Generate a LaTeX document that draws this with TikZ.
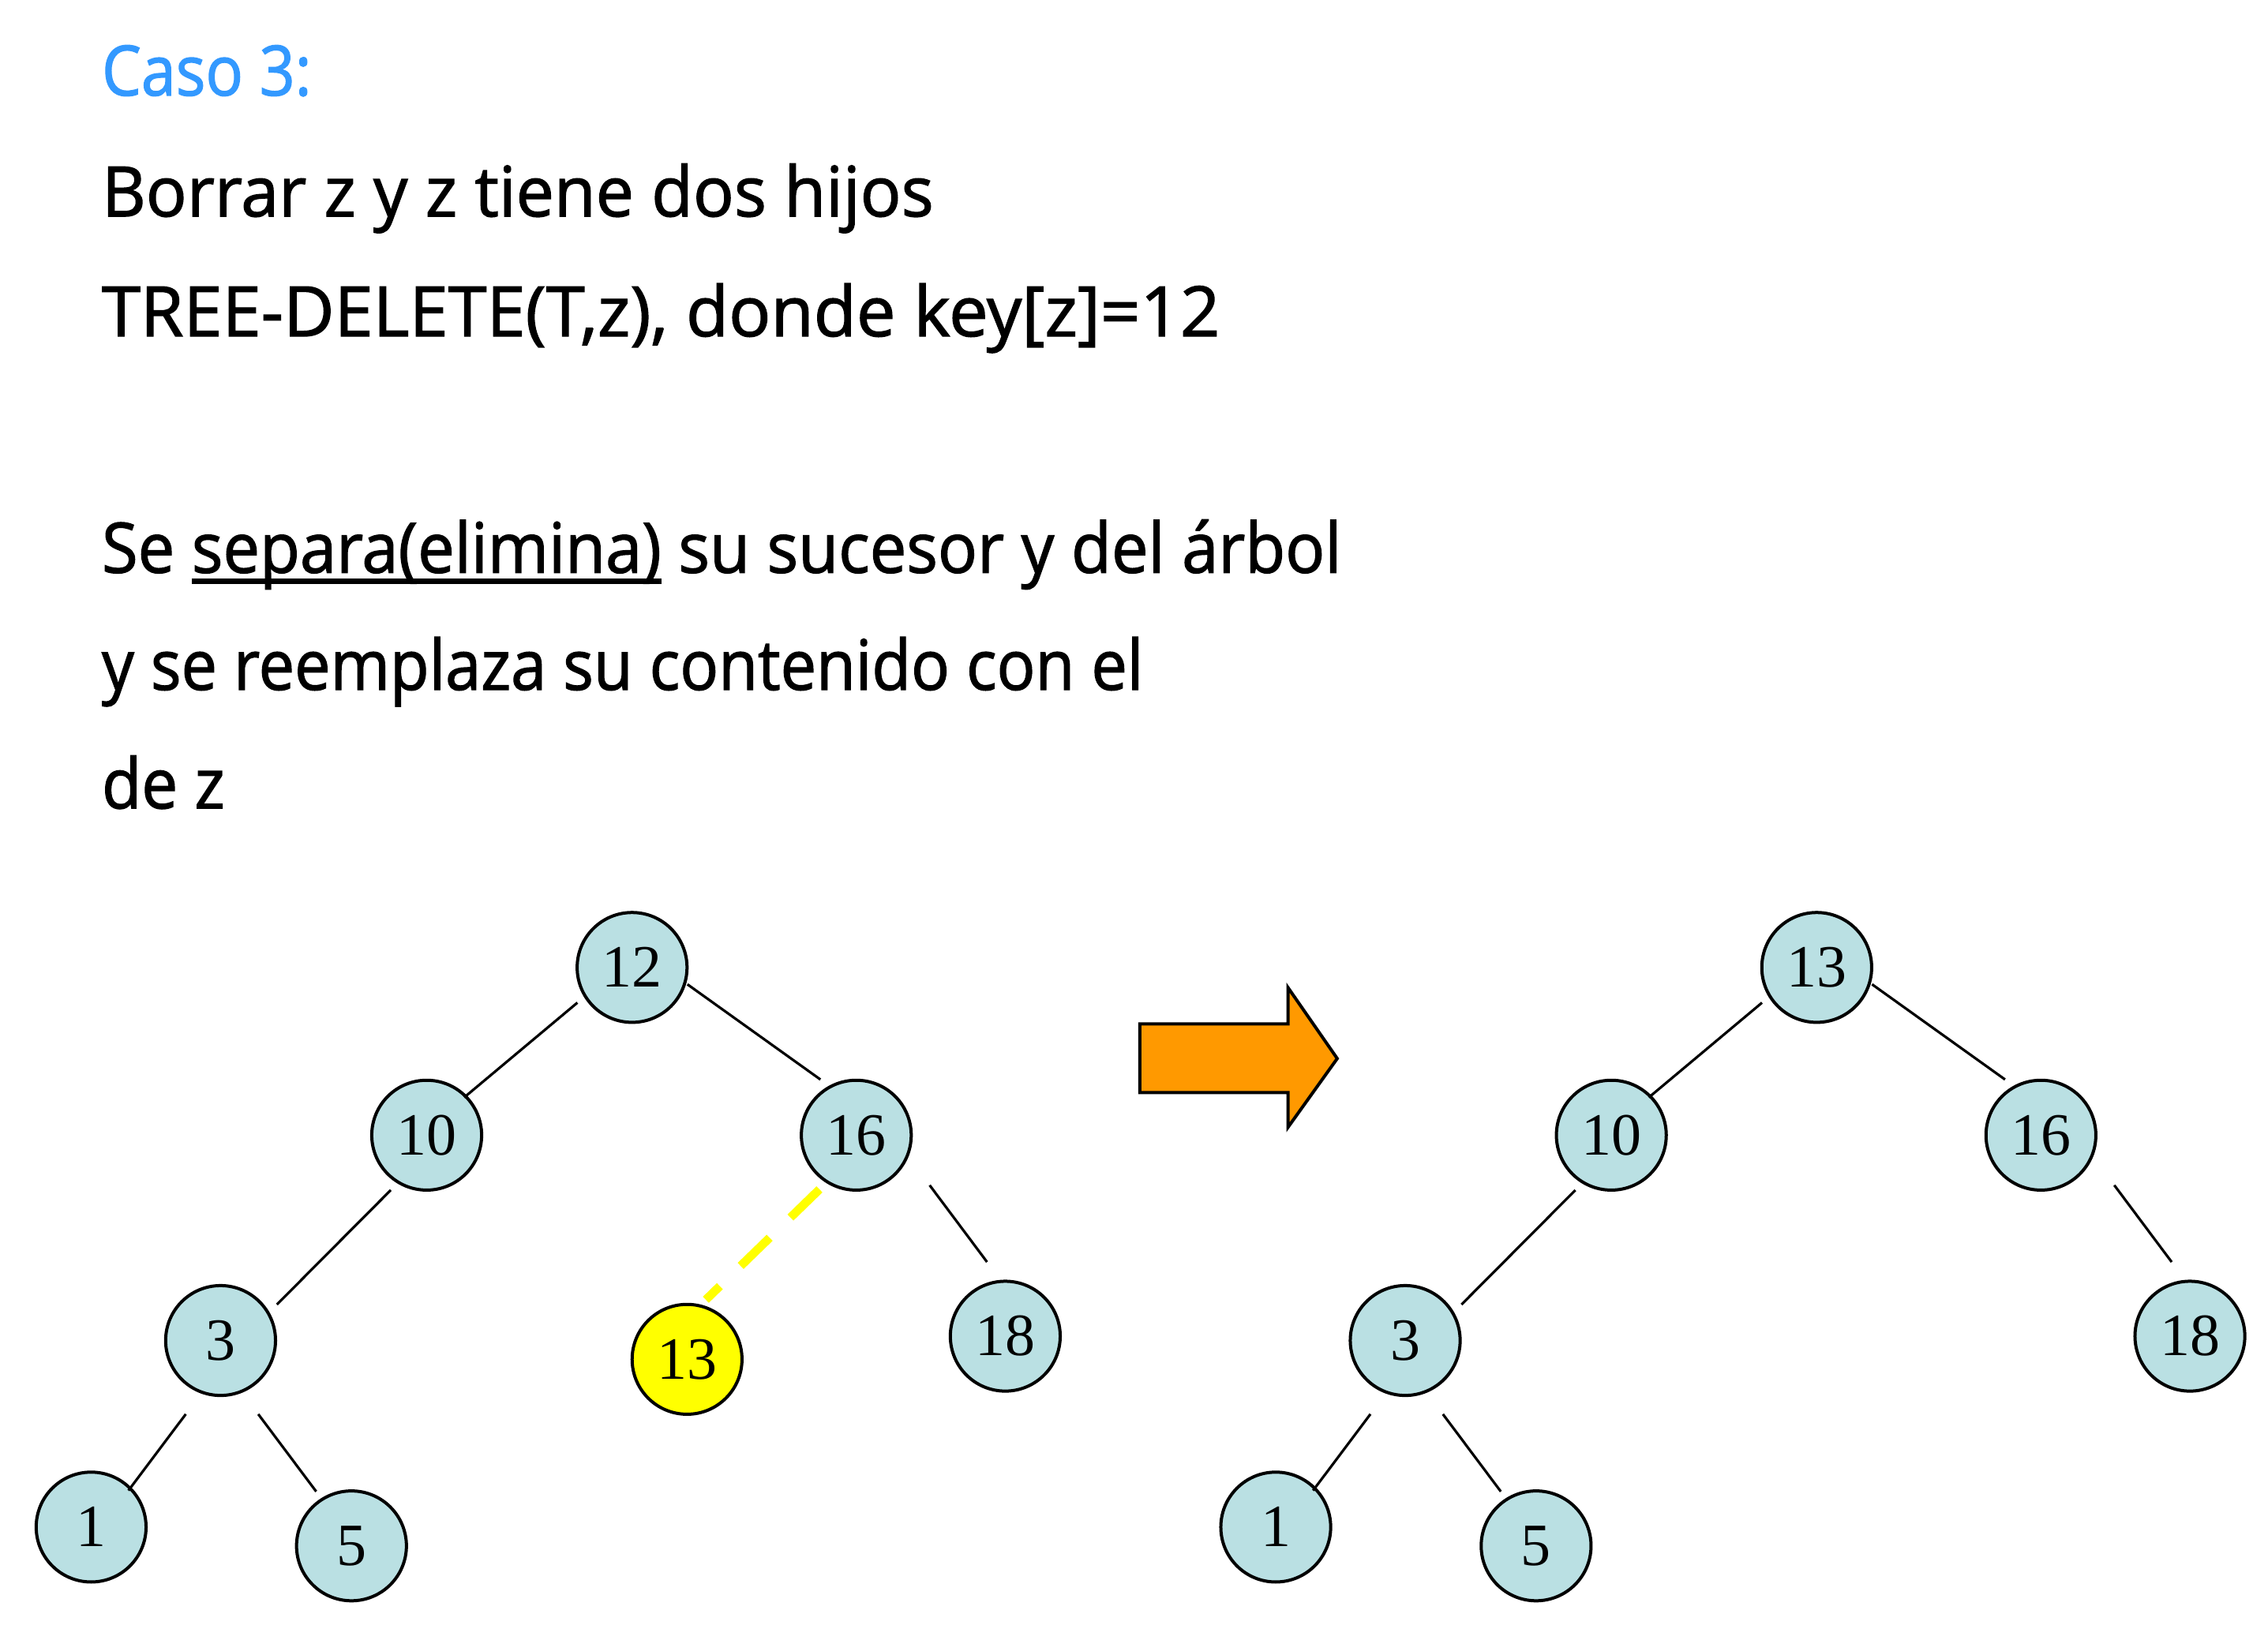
\documentclass[tikz,border=0pt]{standalone}
\usepackage{fontspec}
\setmainfont{Open Sans}
\newfontfamily\bodyfont{Open Sans}[FakeBold=1.5]
\newfontfamily\numfont{Liberation Serif}
\usetikzlibrary{calc}
\definecolor{nodefill}{RGB}{186,224,227}
\definecolor{casoblue}{RGB}{51,153,255}
\definecolor{arroworange}{RGB}{255,153,0}
\definecolor{succyellow}{RGB}{255,255,0}
\newlength\unitpx
\setlength\unitpx{0.45807pt}
\newsavebox\ulbox
\newcommand\myul[1]{\sbox\ulbox{#1}\rlap{\rule[-3.5pt]{\wd\ulbox}{1.6pt}}\usebox\ulbox}
\newcommand\fitline[2]{\resizebox{#1\unitpx}{\height}{#2}}
\begin{document}
\begin{tikzpicture}[x=\unitpx, y=-\unitpx,
  treenode/.style={circle, draw=black, line width=1pt, fill=nodefill,
    minimum size=34.8pt, inner sep=0pt, font=\numfont\fontsize{19}{19}\selectfont},
  succnode/.style={treenode, fill=succyellow},
  treeedge/.style={draw=black, line width=0.8pt},
  cutedge/.style={draw=succyellow, line width=2.7pt, dash pattern=on 12.8pt off 9.2pt},
  bigarrow/.style={draw=black, line width=1pt, fill=arroworange, line join=miter},
  bodytext/.style={anchor=base west, inner sep=0pt, font=\bodyfont\fontsize{22}{26}\selectfont}]
\fill[white] (0,0) rectangle (1568,1134);
\useasboundingbox (0,0) rectangle (1568,1134);

% text
\node[bodytext, text=casoblue] (t0) at (70,66) {\fitline{145}{Caso 3:}};
\node[bodytext] (t1) at (70,149.6) {\fitline{575}{Borrar z y z tiene dos hijos}};
\node[bodytext] (t2) at (70,232.5) {\fitline{773}{TREE-DELETE(T,z), donde key[z]=12}};
\node[bodytext] (t3) at (70,396) {\fitline{857}{Se \myul{separa(elimina)} su sucesor y del árbol}};
\node[bodytext] (t4) at (70,477) {\fitline{720}{y se reemplaza su contenido con el}};
\node[bodytext] (t5) at (70,559) {\fitline{85}{de z}};

% left tree
\node[treenode] (a12) at (437,669) {12};
\node[treenode] (a10) at (295,785) {10};
\node[treenode] (a16) at (592,785) {16};
\node[treenode] (a3) at (152.5,927) {3};
\node[succnode] (a13) at (475,940) {13};
\node[treenode] (a18) at (695,924) {18};
\node[treenode] (a1) at (63,1056) {1};
\node[treenode] (a5) at (243,1069) {5};

\draw[treeedge] ($(a12)+(147.2:45)$) -- ($(a10)+(314.8:36.8)$);
\draw[treeedge] ($(a12)+(17:40)$) -- ($(a16)+(237.2:45.8)$);
\draw[treeedge] ($(a10)+(123.2:45.4)$) -- ($(a3)+(327.4:46.2)$);
\draw[treeedge] ($(a3)+(115.3:56.3)$) -- ($(a1)+(315.6:36.1)$);
\draw[treeedge] ($(a3)+(62.9:57.2)$) -- ($(a5)+(237:44.8)$);
\draw[treeedge] ($(a16)+(34.3:61.4)$) -- ($(a18)+(256.2:52.8)$);
\draw[cutedge] ($(a16)+(124.2:45.3)$) -- ($(a13)+(287.5:43.2)$);

% arrow
\draw[bigarrow] (788,708) -- (890.5,708) -- (890.5,683) -- (924.5,732)
  -- (890.5,779.5) -- (890.5,755.5) -- (788,755.5) -- cycle;

% right tree
\node[treenode] (b13) at (1256,669) {13};
\node[treenode] (b10) at (1114,785) {10};
\node[treenode] (b16) at (1411,785) {16};
\node[treenode] (b3) at (971.5,927) {3};
\node[treenode] (b18) at (1514,924) {18};
\node[treenode] (b1) at (882,1056) {1};
\node[treenode] (b5) at (1062,1069) {5};

\draw[treeedge] ($(b13)+(147.2:45)$) -- ($(b10)+(314.8:36.8)$);
\draw[treeedge] ($(b13)+(17:40)$) -- ($(b16)+(237.2:45.8)$);
\draw[treeedge] ($(b10)+(123.2:45.4)$) -- ($(b3)+(327.4:46.2)$);
\draw[treeedge] ($(b3)+(115.3:56.3)$) -- ($(b1)+(315.6:36.1)$);
\draw[treeedge] ($(b3)+(62.9:57.2)$) -- ($(b5)+(237:44.8)$);
\draw[treeedge] ($(b16)+(34.3:61.4)$) -- ($(b18)+(256.2:52.8)$);
\end{tikzpicture}
\end{document}
